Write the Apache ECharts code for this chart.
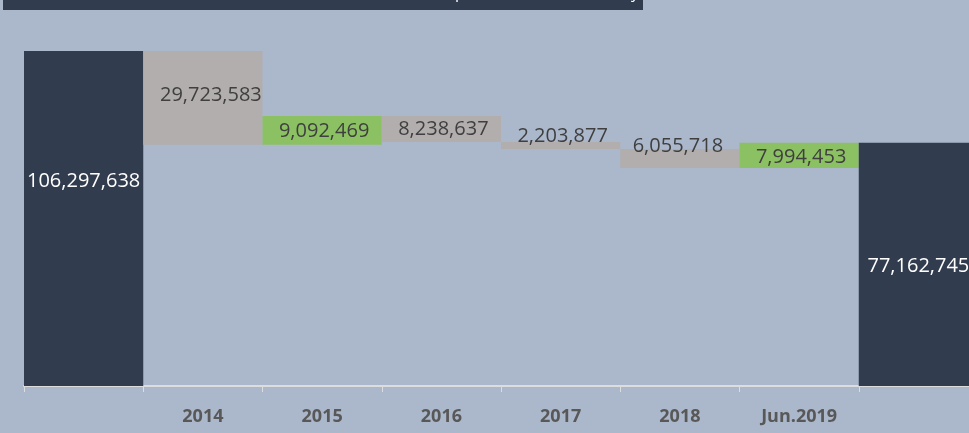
<!DOCTYPE html>
<html>
<head>
    <meta charset="utf-8">
    <title>ECharts</title>
    <script src="https://cdn.jsdelivr.net/npm/echarts@6/dist/echarts.min.js"></script>
</head>
<body style="margin:0;background:#abb7ca;">
<div id="main" style="width: 969px;height:433px;"></div>
<script type="text/javascript">

        // data
        var categories = ['', '2014', '2015', '2016', '2017', '2018', 'Jun.2019', ' '];
        var startTotal = 106297638;
        var changes = [-29723583, 9092469, -8238637, -2203877, -6055718, 7994453];
        var endTotal = 77162745;

        // style
        var colTotal = '#323c4f';
        var colDown = '#b2aead';
        var colUp = '#8cc163';
        var labelOffsets = [[0, -37], [8, -3], [2, 1], [2, 0], [2, -9], [-2, -12], [2, 2], [0, 2]];

        function fmt(v){
            return v.toLocaleString('en-US');
        }

        function buildSeries(){
            var base = [0];
            var bars = [{value: startTotal, color: colTotal, light: true}];
            var run = startTotal;
            for (var i = 0; i < changes.length; i++) {
                var c = changes[i];
                if (c < 0) {
                    base.push(run + c);
                    bars.push({value: -c, color: colDown});
                } else {
                    base.push(run);
                    bars.push({value: c, color: colUp});
                }
                run += c;
            }
            base.push(0);
            bars.push({value: endTotal, color: colTotal, light: true});

            var barData = bars.map(function(b, i){
                return {
                    value: b.value,
                    itemStyle: {color: b.color},
                    label: {
                        color: b.light ? '#ffffff' : '#3f3f3f',
                        offset: labelOffsets[i]
                    }
                };
            });
            return [
                {
                    name: 'base',
                    type: 'bar',
                    stack: 'wf',
                    silent: true,
                    itemStyle: {color: 'transparent'},
                    data: base
                },
                {
                    name: 'value',
                    type: 'bar',
                    stack: 'wf',
                    barCategoryGap: '0%',
                    label: {
                        show: true,
                        position: 'inside',
                        fontFamily: 'Open Sans',
                        fontSize: 20,
                        formatter: function(p){ return fmt(p.value); }
                    },
                    data: barData
                }
            ];
        }

        var myChart = echarts.init(document.getElementById('main'));
        var option = {
            backgroundColor: '#abb7ca',
            animation: false,
            graphic: [
                {
                    type: 'rect',
                    left: 3,
                    top: 0,
                    shape: {width: 640, height: 10},
                    style: {fill: '#323c4f'}
                },
                {
                    type: 'text',
                    right: 330,
                    top: -15,
                    style: {
                        text: 'Net Balance Evolution per Loan Amount, Yearly',
                        fill: '#ffffff',
                        font: '16px "Open Sans"'
                    }
                }
            ],
            grid: {
                left: 24,
                top: 51,
                width: 954,
                bottom: 47,
                outerBoundsMode: 'none'
            },
            xAxis: {
                type: 'category',
                data: categories,
                axisLine: {lineStyle: {color: '#dddddd', width: 2}},
                axisTick: {show: true, length: 6, lineStyle: {color: '#dddddd'}},
                axisLabel: {
                    color: '#585858',
                    fontFamily: 'Open Sans',
                    fontWeight: 'bold',
                    fontSize: 18,
                    margin: 22
                }
            },
            yAxis: {
                type: 'value',
                min: 0,
                max: 'dataMax',
                show: false,
                splitLine: {show: false}
            },
            series: buildSeries()
        };
        myChart.setOption(option);

</script>
</body>
</html>
